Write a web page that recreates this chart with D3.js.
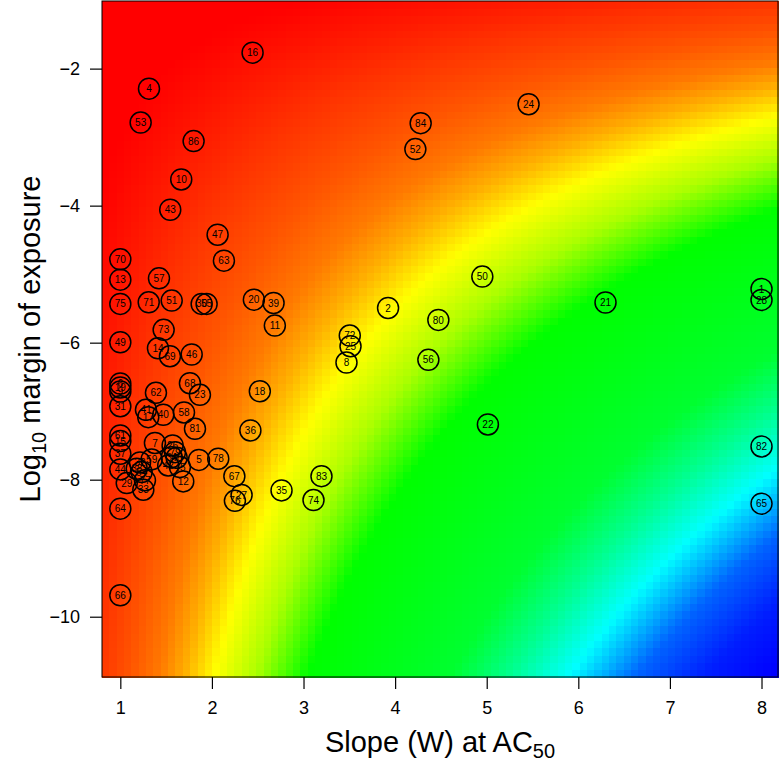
<!DOCTYPE html>
<html>
<head>
<meta charset="utf-8">
<script src="https://cdn.jsdelivr.net/npm/d3@7"></script>
<style>
  body { margin: 0; background: #fff; }
  text { font-family: "Liberation Sans", Arial, Helvetica, sans-serif; }
</style>
</head>
<body>
<svg id="chart" width="780" height="767"></svg>
<script>
// compound ids, slope (W) at AC50, log10 margin of exposure
const ids = [1, 2, 4, 5, 6, 7, 8, 9, 10, 11, 12, 13, 14, 15, 16, 17, 18, 19, 20,
  21, 22, 23, 24, 25, 26, 27, 28, 29, 30, 31, 32, 33, 34, 35, 36, 37, 38, 39, 40,
  41, 42, 43, 44, 45, 46, 47, 48, 49, 50, 51, 52, 53, 54, 55, 56, 57, 58, 59, 61,
  62, 63, 64, 65, 66, 67, 68, 69, 70, 71, 72, 73, 74, 75, 76, 77, 78, 79, 80, 81,
  82, 83, 84, 86];
const slope = [8, 3.923, 1.313, 1.858, 1, 1.378, 3.469, 1, 1.665, 2.687, 1.687, 1, 1.411, 1, 2.444, 1.305, 2.523, 1, 2.458,
  6.297, 5.013, 1.869, 5.457, 3.513, 1.571, 2.324, 8, 1.07, 1.888, 1, 1.215, 1.251, 1.561, 2.76, 2.42, 1, 1.179, 2.673, 1.469,
  1.28, 1.523, 1.545, 1, 1.651, 1.779, 2.062, 1.615, 1, 4.952, 1.561, 4.221, 1.222, 1.233, 1.942, 4.363, 1.422, 1.695, 1.342, 1,
  1.389, 2.131, 1, 8, 1, 2.245, 1.76, 1.542, 1, 1.31, 3.505, 1.473, 3.109, 1, 2.251, 1.269, 2.069, 1.597, 4.472, 1.815,
  8, 3.196, 4.279, 1.8];
const moe = [-5.216, -5.493, -2.292, -7.711, -6.596, -7.464, -6.29, -6.713, -3.618, -5.751, -8.025, -5.08, -6.082, -7.437, -1.767, -7.087, -6.708, -6.654, -5.372,
  -5.414, -7.194, -6.761, -2.519, -6.052, -7.5, -8.222, -5.376, -8.05, -5.434, -6.927, -7.748, -8.146, -7.671, -8.156, -7.281, -7.621, -7.84, -5.42, -7.052,
  -6.98, -7.792, -4.06, -7.85, -7.816, -6.173, -4.424, -7.679, -5.994, -5.036, -5.386, -3.175, -2.787, -7.889, -5.434, -6.251, -5.061, -7.019, -7.704, -7.354,
  -6.732, -4.803, -8.423, -8.35, -9.687, -7.948, -6.592, -6.198, -4.784, -5.411, -5.896, -5.813, -8.297, -5.434, -8.309, -8.01, -7.694, -7.598, -5.668, -7.257,
  -7.515, -7.948, -2.796, -3.058];

const xTicks = [1, 2, 3, 4, 5, 6, 7, 8];
const yTicks = [-10, -8, -6, -4, -2];

// background ramp over -(slope * log10 MOE)
const rampStops = [0, 3, 8, 12, 15.5, 18.5, 22, 27, 33, 50, 57, 64, 72, 80, 88];
const rampColors = ["#ff0000", "#ff0000", "#ff3200", "#ff5500", "#ff7a00", "#ffb000", "#ffff00",
  "#aaff00", "#00ff00", "#00ff30", "#00ff90", "#00ffff", "#0064ff", "#001eff", "#0000ff"];

const margin = { top: 1, right: 2, bottom: 90, left: 102 };
const width = 780 - margin.left - margin.right;
const height = 767 - margin.top - margin.bottom;

const x = d3.scaleLinear().domain([0.8, 8.18]).range([0, width]);
const y = d3.scaleLinear().domain([-10.88, -1.013]).range([height, 0]);
const color = d3.scaleLinear().domain(rampStops).range(rampColors).clamp(true);

const svg = d3.select("#chart");
const g = svg.append("g")
  .attr("transform", "translate(" + margin.left + "," + margin.top + ")");

// heat map raster
const nx = 92, ny = 92;
const dx = (x.domain()[1] - x.domain()[0]) / nx;
const dy = (y.domain()[1] - y.domain()[0]) / ny;
const cells = [];
for (let i = 0; i < nx; i++) {
  for (let j = 0; j < ny; j++) {
    const x0 = x.domain()[0] + i * dx;
    const y0 = y.domain()[0] + j * dy;
    cells.push({ x0: x0, y0: y0, v: -(x0 + dx / 2) * (y0 + dy / 2) });
  }
}
g.append("g")
  .attr("shape-rendering", "crispEdges")
  .selectAll("rect")
  .data(cells)
  .join("rect")
  .attr("x", d => x(d.x0))
  .attr("y", d => y(d.y0 + dy))
  .attr("width", x(dx) - x(0) + 0.6)
  .attr("height", y(0) - y(dy) + 0.6)
  .attr("fill", d => color(d.v));

// points
const pts = ids.map((id, i) => ({ id: id, s: slope[i], m: moe[i] }));
const pg = g.append("g").selectAll("g")
  .data(pts)
  .join("g")
  .attr("transform", d => "translate(" + x(d.s) + "," + y(d.m) + ")");
pg.append("circle")
  .attr("r", 10.5)
  .attr("fill", "none")
  .attr("stroke", "#000")
  .attr("stroke-width", 1.5);
pg.append("text")
  .attr("text-anchor", "middle")
  .attr("dy", "0.36em")
  .attr("font-size", 10)
  .text(d => d.id);

// frame
g.append("rect")
  .attr("width", width)
  .attr("height", height)
  .attr("fill", "none")
  .attr("stroke", "#000")
  .attr("stroke-width", 1);

// axes
const xAxis = g.append("g")
  .attr("transform", "translate(0," + height + ")")
  .call(d3.axisBottom(x).tickValues(xTicks).tickSize(12).tickPadding(12));
const yAxis = g.append("g")
  .call(d3.axisLeft(y).tickValues(yTicks).tickSize(12).tickPadding(10));
[xAxis, yAxis].forEach(a => {
  a.select(".domain").remove();
  a.selectAll("line").attr("stroke-width", 1.2);
  a.selectAll("text").attr("font-size", 18).attr("font-family", "Liberation Sans, Arial, sans-serif").attr("fill", "#000");
});

// titles
const xt = svg.append("text")
  .attr("x", margin.left + width / 2)
  .attr("y", 752)
  .attr("text-anchor", "middle")
  .attr("font-size", 29);
xt.append("tspan").text("Slope (W) at AC");
xt.append("tspan").attr("font-size", 20).attr("dy", 6).text("50");

const yt = svg.append("text")
  .attr("transform", "translate(40," + (margin.top + height / 2) + ") rotate(-90)")
  .attr("text-anchor", "middle")
  .attr("font-size", 29);
yt.append("tspan").text("Log");
yt.append("tspan").attr("font-size", 20).attr("dy", 6).text("10");
yt.append("tspan").attr("dy", -6).text(" margin of exposure");
</script>
</body>
</html>
